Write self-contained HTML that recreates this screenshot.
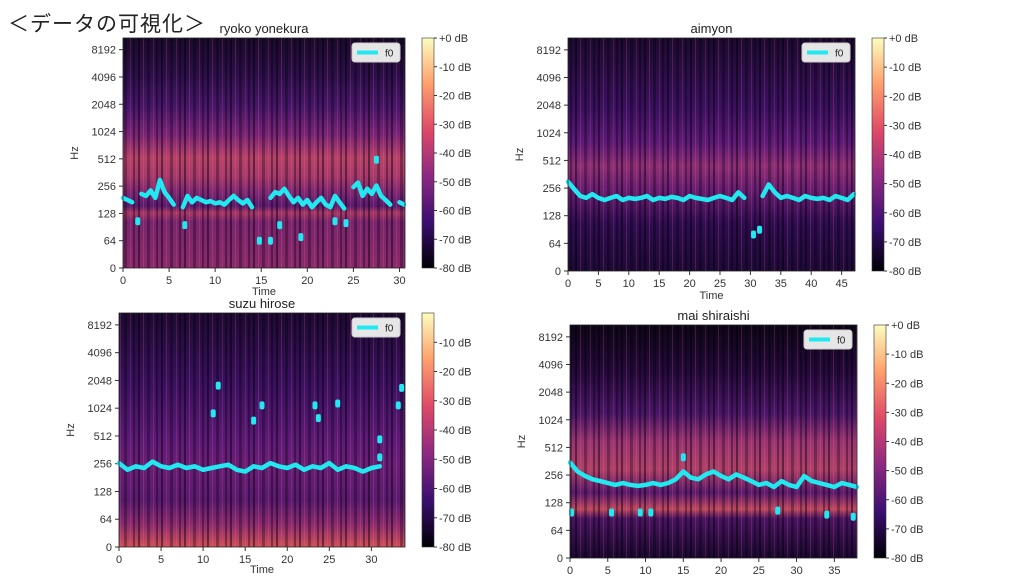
<!DOCTYPE html>
<html><head><meta charset="utf-8">
<style>
body{margin:0;width:1024px;height:576px;background:#fff;overflow:hidden;font-family:"Liberation Sans","Noto Sans CJK JP",sans-serif;position:relative}
#title{position:absolute;left:8px;top:8px;font-size:21px;color:#222;letter-spacing:1px}
svg{position:absolute;left:0;top:0}
</style></head><body>
<div id="title">＜データの可視化＞</div>
<svg id="chart" width="1024" height="576">
<defs>
<linearGradient id="magma" x1="0" y1="1" x2="0" y2="0">
<stop offset="0" stop-color="#000004"/><stop offset="0.2" stop-color="#3b0f70"/><stop offset="0.4" stop-color="#8c2981"/><stop offset="0.6" stop-color="#de4968"/><stop offset="0.8" stop-color="#fe9f6d"/><stop offset="1" stop-color="#fcfdbf"/>
</linearGradient>
<linearGradient id="bgA" x1="0" y1="0" x2="0" y2="1">
<stop offset="0" stop-color="#1a0a2c"/><stop offset="0.15" stop-color="#2a0e48"/><stop offset="0.3" stop-color="#48166a"/><stop offset="0.42" stop-color="#7a2478"/><stop offset="0.52" stop-color="#b8426a"/><stop offset="0.6" stop-color="#a83a6c"/><stop offset="0.68" stop-color="#7a2676"/><stop offset="0.73" stop-color="#5a1a70"/><stop offset="0.76" stop-color="#a83868"/><stop offset="0.8" stop-color="#7a2470"/><stop offset="1" stop-color="#8a2a6c"/>
</linearGradient>
<linearGradient id="bgB" x1="0" y1="0" x2="0" y2="1">
<stop offset="0" stop-color="#1c0a30"/><stop offset="0.3" stop-color="#3a1060"/><stop offset="0.45" stop-color="#5e1a78"/><stop offset="0.55" stop-color="#8e2e76"/><stop offset="0.65" stop-color="#6a1e74"/><stop offset="0.8" stop-color="#2e0c50"/><stop offset="1" stop-color="#1e0a38"/>
</linearGradient>
<linearGradient id="bgC" x1="0" y1="0" x2="0" y2="1">
<stop offset="0" stop-color="#1e0a34"/><stop offset="0.3" stop-color="#3a1060"/><stop offset="0.55" stop-color="#5e1a78"/><stop offset="0.65" stop-color="#6a1e78"/><stop offset="0.8" stop-color="#5a1a70"/><stop offset="0.9" stop-color="#8a2a70"/><stop offset="1" stop-color="#d0505a"/>
</linearGradient>
<linearGradient id="bgD" x1="0" y1="0" x2="0" y2="1">
<stop offset="0" stop-color="#0e0618"/><stop offset="0.2" stop-color="#24093c"/><stop offset="0.38" stop-color="#4a1668"/><stop offset="0.5" stop-color="#9a3472"/><stop offset="0.62" stop-color="#b0406a"/><stop offset="0.72" stop-color="#5a1a70"/><stop offset="0.79" stop-color="#c04860"/><stop offset="0.83" stop-color="#4a1462"/><stop offset="1" stop-color="#1a0830"/>
</linearGradient>
<pattern id="stripes" width="23" height="10" patternUnits="userSpaceOnUse">
<rect x="0" y="0" width="2" height="10" fill="rgba(0,0,0,0.45)"/><rect x="5" y="0" width="1" height="10" fill="rgba(255,140,120,0.18)"/><rect x="9" y="0" width="3" height="10" fill="rgba(0,0,0,0.3)"/><rect x="15" y="0" width="1" height="10" fill="rgba(255,150,110,0.15)"/><rect x="18" y="0" width="2" height="10" fill="rgba(0,0,0,0.35)"/>
</pattern>
</defs>
</svg>
<script>
// ---- panel 1: ryoko yonekura
const p1Times=[0,0.5,1,1.5,2,2.5,3,3.5,4,4.5,5,5.5,6,6.5,7,7.5,8,8.5,9,9.5,10,10.5,11,11.5,12,12.5,13,13.5,14,14.5,15,15.5,16,16.5,17,17.5,18,18.5,19,19.5,20,20.5,21,21.5,22,22.5,23,23.5,24,24.5,25,25.5,26,26.5,27,27.5,28,28.5,29,29.5,30,30.5];
const p1F0=[190,180,170,null,210,200,230,190,300,220,190,160,null,150,200,170,190,180,170,175,165,170,160,180,200,180,165,180,150,null,null,null,190,220,210,240,200,170,190,160,180,150,170,190,160,150,200,170,145,null,250,280,200,240,210,260,200,180,160,null,170,160];
const p1DotT=[1.6,6.7,14.8,16,17,19.3,23,24.2,27.5];
const p1DotF=[105,95,64,64,95,70,105,100,500];
// ---- panel 2: aimyon
const p2Times=[0,1,2,3,4,5,6,7,8,9,10,11,12,13,14,15,16,17,18,19,20,21,22,23,24,25,26,27,28,29,30,31,32,33,34,35,36,37,38,39,40,41,42,43,44,45,46,47];
const p2F0=[300,250,210,200,220,200,190,200,210,190,200,195,200,210,190,200,195,205,200,190,210,200,195,190,200,210,200,190,230,200,null,null,210,280,230,200,210,200,190,210,200,195,200,190,210,200,190,220];
const p2DotT=[30.5,31.5];
const p2DotF=[80,90];
// ---- panel 3: suzu hirose
const p3Times=[0,1,2,3,4,5,6,7,8,9,10,11,12,13,14,15,16,17,18,19,20,21,22,23,24,25,26,27,28,29,30,31,32,33,34];
const p3F0=[260,220,240,230,270,240,230,250,230,240,220,230,240,250,220,210,240,230,260,240,230,250,220,240,230,260,220,240,230,210,230,240,null,null,null];
const p3DotT=[11.8,11.2,17,16,23.3,26,23.7,31,31,33.6,33.2];
const p3DotF=[1800,900,1100,750,1100,1150,800,470,300,1700,1100];
// ---- panel 4: mai shiraishi
const p4Times=[0,1,2,3,4,5,6,7,8,9,10,11,12,13,14,15,16,17,18,19,20,21,22,23,24,25,26,27,28,29,30,31,32,33,34,35,36,37,38];
const p4F0=[350,280,250,230,220,210,200,210,200,195,200,210,200,210,230,280,240,230,260,280,250,230,260,240,220,200,210,190,220,200,190,250,220,210,200,190,210,200,190];
const p4DotT=[0.2,5.5,9.3,10.7,15,27.5,34,37.5];
const p4DotF=[100,100,100,100,400,105,95,90];
// ---- ticks
const freqTicks=[0,64,128,256,512,1024,2048,4096,8192];
const dbTicks=[0,-10,-20,-30,-40,-50,-60,-70,-80];

const NS='http://www.w3.org/2000/svg';
const svg=document.getElementById('chart');
function mk(tag,attrs,parent){const e=document.createElementNS(NS,tag);for(const k in attrs)e.setAttribute(k,attrs[k]);(parent||svg).appendChild(e);return e;}

const panels=[
 {name:'ryoko-yonekura',title:'ryoko yonekura',x0:123,x1:405,y0:38,y1:268,tmax:30.6,tstep:5,bg:'bgA',cbx:422,cby0:38,cby1:268,dbTop:0,times:p1Times,f0:p1F0,dt:p1DotT,df:p1DotF,showTop:true,timeY:295},
 {name:'aimyon',title:'aimyon',x0:568,x1:855,y0:38,y1:271,tmax:47.2,tstep:5,bg:'bgB',cbx:872,cby0:38,cby1:271,dbTop:0,times:p2Times,f0:p2F0,dt:p2DotT,df:p2DotF,showTop:true,timeY:299},
 {name:'suzu-hirose',title:'suzu hirose',x0:119,x1:405,y0:313,y1:547,tmax:34,tstep:5,bg:'bgC',cbx:422,cby0:313,cby1:547,dbTop:0,times:p3Times,f0:p3F0,dt:p3DotT,df:p3DotF,showTop:false,timeY:573},
 {name:'mai-shiraishi',title:'mai shiraishi',x0:570,x1:857,y0:325,y1:558,tmax:38,tstep:5,bg:'bgD',cbx:874,cby0:325,cby1:558,dbTop:0,times:p4Times,f0:p4F0,dt:p4DotT,df:p4DotF,showTop:true,timeY:584}
];
const NYQ=11025;
panels.forEach((p,pi)=>{
  const g=mk('g',{});
  
  
  const H=p.y1-p.y0, oct=H/(1+Math.log2(NYQ/64));
  const fy=f=> f<64 ? p.y1 - f/64*oct : p.y1 - oct - Math.log2(f/64)*oct;
  const tx=t=> p.x0 + t/p.tmax*(p.x1-p.x0);
  const bg=mk('rect',{x:p.x0,y:p.y0,width:p.x1-p.x0,height:H,fill:'url(#'+p.bg+')'},g);
  
  
  const st=mk('rect',{x:p.x0,y:p.y0,width:p.x1-p.x0,height:H,fill:'url(#stripes)'},g);
  
  
  const ti=mk('text',{x:(p.x0+p.x1)/2,y:p.y0-5,'text-anchor':'middle','font-size':13,fill:'#222'},g);
  ti.textContent=p.title;
  
  
  freqTicks.forEach(f=>{
    const y=fy(f);
    mk('line',{x1:p.x0-4,x2:p.x0,y1:y,y2:y,stroke:'#333'},g);
    const t=mk('text',{x:p.x0-7,y:y+4,'text-anchor':'end','font-size':11,fill:'#333'},g);
    t.textContent=f;
    
    
  });
  const hz=mk('text',{x:0,y:0,'text-anchor':'middle','font-size':11,fill:'#333',transform:'translate('+(p.x0-45)+','+((p.y0+p.y1)/2)+') rotate(-90)'},g);
  hz.textContent='Hz';
  
  
  for(let t=0;t<=p.tmax;t+=p.tstep){
    const x=tx(t);
    mk('line',{x1:x,x2:x,y1:p.y1,y2:p.y1+4,stroke:'#333'},g);
    const l=mk('text',{x:x,y:p.y1+16,'text-anchor':'middle','font-size':11,fill:'#333'},g);
    l.textContent=t;
    
    
  }
  const xt=mk('text',{x:(p.x0+p.x1)/2,y:p.timeY,'text-anchor':'middle','font-size':11,fill:'#333'},g);
  xt.textContent='Time';
  
  
  let seg=[];
  const flush=()=>{ if(seg.length>1){const pl=mk('polyline',{points:seg.join(' '),fill:'none',stroke:'#22e8f0','stroke-width':4.5,'stroke-linejoin':'round','stroke-linecap':'round'},g);
      
      }
    else if(seg.length===1){const [a,b]=seg[0].split(',');const c=mk('circle',{cx:a,cy:b,r:3,fill:'#22e8f0'},g);
      
      }
    seg=[];};
  p.times.forEach((t,i)=>{const f=p.f0[i]; if(f==null){flush();return;} seg.push(tx(t).toFixed(1)+','+fy(f).toFixed(1));});
  flush();
  p.dt.forEach((t,i)=>{
    const e=mk('rect',{x:tx(t)-2.5,y:fy(p.df[i])-4,width:5,height:8,rx:2,fill:'#22e8f0'},g);
    
    
  });
  mk('rect',{x:p.x0,y:p.y0,width:p.x1-p.x0,height:H,fill:'none',stroke:'#222','stroke-width':0.8},g);
  const lg=mk('g',{},g);
  
  
  mk('rect',{x:p.x1-53,y:p.y0+5,width:48,height:19,rx:3,fill:'#e6e6e6',stroke:'#ccc'},lg);
  mk('line',{x1:p.x1-48,x2:p.x1-27,y1:p.y0+14.5,y2:p.y0+14.5,stroke:'#22e8f0','stroke-width':4},lg);
  const lt=mk('text',{x:p.x1-20,y:p.y0+18.5,'font-size':10,fill:'#222'},lg);
  lt.textContent='f0';
  const cb=mk('rect',{x:p.cbx,y:p.cby0,width:12,height:p.cby1-p.cby0,fill:'url(#magma)',stroke:'#333','stroke-width':0.6},g);
  
  
  const cbH=p.cby1-p.cby0;
  dbTicks.forEach(d=>{
    if(d===0 && !p.showTop) return;
    const y=p.cby0+(p.dbTop-d)/80*cbH;
    mk('line',{x1:p.cbx+12,x2:p.cbx+15,y1:y,y2:y,stroke:'#333'},g);
    const l=mk('text',{x:p.cbx+17,y:y+4,'font-size':11,fill:'#333'},g);
    l.textContent=(d===0?'+0':d)+' dB';
    
    
  });
});
</script>
</body></html>
